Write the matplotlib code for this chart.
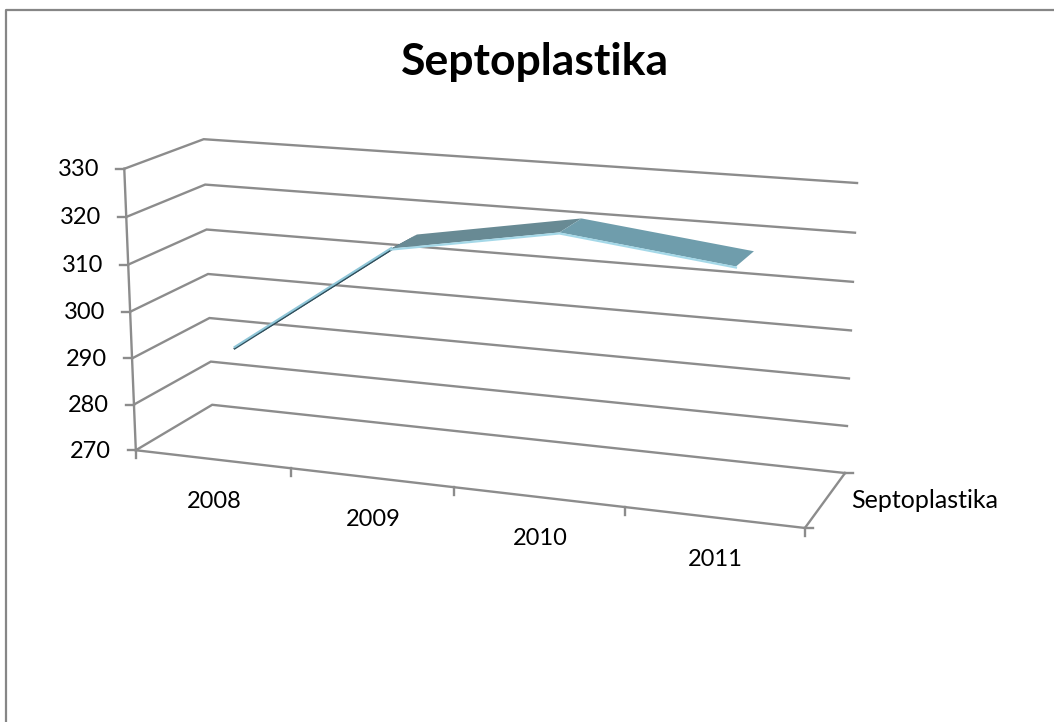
import numpy as np
from matplotlib import pyplot as plt
from matplotlib.patches import Polygon

plt.rcParams['font.family'] = ['Lato', 'DejaVu Sans']

years = ["2008", "2009", "2010", "2011"]
values = [291, 315, 321, 317]
y_ticks = [270, 280, 290, 300, 310, 320, 330]
series_name = "Septoplastika"

W, H = 1054, 722

# Corners of the 3D box as seen in the reference (pixels): (u, v, d) -> (x, y)
corners = [
    ((0, 0, 0), (136, 450)),
    ((0, 1, 0), (124, 169)),
    ((1, 0, 0), (805, 528)),
    ((0, 0, 1), (212, 405)),
    ((0, 1, 1), (204, 139)),
    ((1, 0, 1), (845, 473)),
    ((1, 1, 1), (857, 183)),
]

# Fit a projective camera to those corners
rows, rhs = [], []
for (u, v, d), (px, py) in corners:
    rows.append([u, v, d, 1, 0, 0, 0, 0, -px * u, -px * v, -px * d])
    rhs.append(px)
    rows.append([0, 0, 0, 0, u, v, d, 1, -py * u, -py * v, -py * d])
    rhs.append(py)
cam = np.linalg.lstsq(np.array(rows, float), np.array(rhs, float), rcond=None)[0]
cam = np.append(cam, 1.0).reshape(3, 4)


def project(year_pos, value, depth):
    # year_pos in categories (0 = left edge of the first one), value in axis units
    u = year_pos / len(years)
    v = (value - y_ticks[0]) / (y_ticks[-1] - y_ticks[0])
    p = cam @ np.array([u, v, depth, 1.0])
    return p[0] / p[2], p[1] / p[2]


fig = plt.figure(figsize=(W / 100, H / 100), dpi=100)
ax = fig.add_axes([0, 0, 1, 1])
ax.set_xlim(0, W)
ax.set_ylim(H, 0)
ax.axis("off")

# Chart border: only the top and left sides are in the picture
ax.plot([6, 6, W], [H, 10, 10], color="#868686", lw=1.6)

grid = "#8c8c8c"
n = len(years)

# Gridlines on the side wall and the back wall
for t in y_ticks:
    a, b, c = project(0, t, 0), project(0, t, 1), project(n, t, 1)
    ax.plot([a[0], b[0], c[0]], [a[1], b[1], c[1]], color=grid, lw=1.7, solid_joinstyle="miter")
    ax.plot([a[0] - 8, a[0]], [a[1], a[1]], color=grid, lw=1.7)
    ax.text(a[0] - 25, a[1] + 1, str(t), ha="right", va="center", fontsize=17, color="black")

# Value axis, floor front edge and floor right edge
y0 = project(0, y_ticks[0], 0)
y1 = project(0, y_ticks[-1], 0)
ax.plot([y0[0], y1[0]], [y0[1], y1[1]], color=grid, lw=1.7)
f0 = project(n, y_ticks[0], 0)
f1 = project(n, y_ticks[0], 1)
ax.plot([y0[0], f0[0], f1[0]], [y0[1], f0[1], f1[1]], color=grid, lw=1.7)
ax.plot([f0[0], f0[0] + 8], [f0[1], f0[1]], color=grid, lw=1.7)
ax.plot([f1[0], f1[0] + 8], [f1[1], f1[1]], color=grid, lw=1.7)

# Category ticks and labels
for i in range(n + 1):
    px, py = project(i, y_ticks[0], 0)
    ax.plot([px, px], [py, py + 8], color=grid, lw=1.7)
for i, year in enumerate(years):
    px, py = project(i + 0.5, y_ticks[0], 0)
    ax.text(px + 2, py + 42, year, ha="center", va="center", fontsize=17, color="black")

ax.text(851, 500, series_name, ha="left", va="center", fontsize=18, color="black")
ax.text(535, 62, series_name, ha="center", va="center", fontsize=32, fontweight="bold", color="black")

# Ribbon of the series: one face per pair of years, then the lit front edge
d_front, d_back = 0.33, 0.72
face_colors = ["#2f4f5c", "#688a94", "#6f9dac"]
for i in range(n - 1):
    quad = [
        project(i + 0.5, values[i], d_front),
        project(i + 1.5, values[i + 1], d_front),
        project(i + 1.5, values[i + 1], d_back),
        project(i + 0.5, values[i], d_back),
    ]
    ax.add_patch(Polygon(quad, closed=True, facecolor=face_colors[i], edgecolor="none", zorder=3))
front = [project(i + 0.5, values[i], d_front) for i in range(n)]

# Rising part is seen from below: dark under the light edge
ax.plot([p[0] for p in front[:2]], [p[1] + 1 for p in front[:2]], color="#2f4f5c", lw=1.5, zorder=4)
ax.plot([p[0] for p in front[:2]], [p[1] - 0.5 for p in front[:2]], color="#8fc6d8", lw=1.5, zorder=4)
ax.plot([p[0] for p in front[1:]], [p[1] + 1 for p in front[1:]], color="#a4d8e8", lw=1.6, zorder=4)

fig.savefig("out.png", dpi=100)
